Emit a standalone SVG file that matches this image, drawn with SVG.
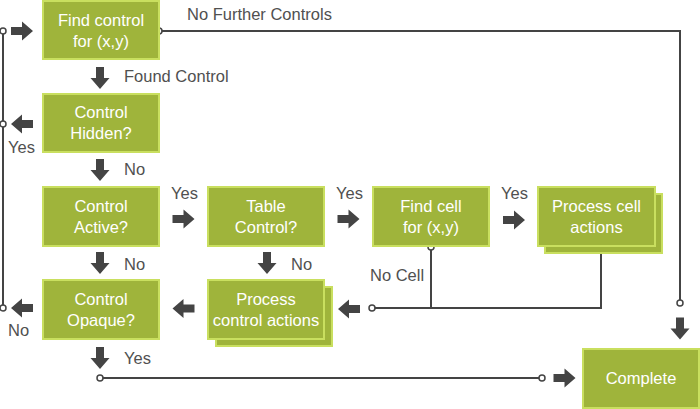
<svg xmlns="http://www.w3.org/2000/svg" xmlns:xlink="http://www.w3.org/1999/xlink" width="700" height="409" viewBox="0 0 700 409">
<defs>
<style>
.box{fill:#9fb43b;stroke:#c9df5f;stroke-width:2}
.bt{font-family:"Liberation Sans",Arial,sans-serif;font-size:16.5px;fill:#ffffff;text-anchor:middle}
.lb{font-family:"Liberation Sans",Arial,sans-serif;font-size:16.5px;fill:#505050}
.ln{fill:none;stroke:#444444;stroke-width:2}
.dot{fill:#ffffff;stroke:#444444;stroke-width:1.5}
.ar{fill:#444444}
</style>
<path id="arr" d="M-11,-4 H0 V-9.5 L11,0 L0,9.5 V4 H-11 Z"/>
</defs>
<rect width="700" height="409" fill="#ffffff"/>

<g id="connectors">
<path class="ln" d="M3,31 V308"/>
<path class="ln" d="M159,31 H680 V303"/>
<path class="ln" d="M100,378 H542"/>
<path class="ln" d="M372,308 H601 V247 M431,308 V247"/>
<circle class="dot" cx="3" cy="31" r="3"/>
<circle class="dot" cx="3" cy="124" r="3"/>
<circle class="dot" cx="3" cy="308" r="3"/>
<circle class="dot" cx="159" cy="31" r="3"/>
<circle class="dot" cx="680" cy="303" r="3"/>
<circle class="dot" cx="100" cy="378" r="3"/>
<circle class="dot" cx="542" cy="378" r="3"/>
<circle class="dot" cx="372" cy="308" r="3"/>
<circle class="dot" cx="431" cy="247" r="3"/>
<circle class="dot" cx="601" cy="247" r="3"/>
<use class="ar" xlink:href="#arr" transform="translate(22,31)"/>
<use class="ar" xlink:href="#arr" transform="translate(100,78) rotate(90)"/>
<use class="ar" xlink:href="#arr" transform="translate(22,124) rotate(180)"/>
<use class="ar" xlink:href="#arr" transform="translate(100,170) rotate(90)"/>
<use class="ar" xlink:href="#arr" transform="translate(100,263) rotate(90)"/>
<use class="ar" xlink:href="#arr" transform="translate(22,308) rotate(180)"/>
<use class="ar" xlink:href="#arr" transform="translate(100,358) rotate(90)"/>
<use class="ar" xlink:href="#arr" transform="translate(183.5,219)"/>
<use class="ar" xlink:href="#arr" transform="translate(183.5,308.5) rotate(180)"/>
<use class="ar" xlink:href="#arr" transform="translate(267,263) rotate(90)"/>
<use class="ar" xlink:href="#arr" transform="translate(348.5,219)"/>
<use class="ar" xlink:href="#arr" transform="translate(349,309) rotate(180)"/>
<use class="ar" xlink:href="#arr" transform="translate(514,220)"/>
<use class="ar" xlink:href="#arr" transform="translate(680,328.5) rotate(90)"/>
<use class="ar" xlink:href="#arr" transform="translate(564.5,378)"/>
<text class="lb" x="187" y="20">No Further Controls</text>
<text class="lb" x="124" y="82">Found Control</text>
<text class="lb" x="8" y="153">Yes</text>
<text class="lb" x="124" y="175">No</text>
<text class="lb" x="171" y="199">Yes</text>
<text class="lb" x="336" y="199">Yes</text>
<text class="lb" x="501" y="199">Yes</text>
<text class="lb" x="124" y="270">No</text>
<text class="lb" x="291" y="270">No</text>
<text class="lb" x="370" y="281">No Cell</text>
<text class="lb" x="8" y="336">No</text>
<text class="lb" x="124" y="364">Yes</text>
</g>

<g id="find-control">
<rect class="box" x="43" y="1" width="116" height="58"/>
<text class="bt" x="101" y="26">Find control</text>
<text class="bt" x="101" y="47">for (x,y)</text>
</g>
<g id="control-hidden">
<rect class="box" x="43" y="94" width="116" height="58"/>
<text class="bt" x="101" y="118">Control</text>
<text class="bt" x="101" y="139">Hidden?</text>
</g>
<g id="control-active">
<rect class="box" x="43" y="187" width="116" height="59"/>
<text class="bt" x="101" y="212">Control</text>
<text class="bt" x="101" y="233">Active?</text>
</g>
<g id="control-opaque">
<rect class="box" x="43" y="280" width="116" height="59"/>
<text class="bt" x="101" y="305">Control</text>
<text class="bt" x="101" y="326">Opaque?</text>
</g>
<g id="table-control">
<rect class="box" x="208" y="187" width="116" height="59"/>
<text class="bt" x="266" y="212">Table</text>
<text class="bt" x="266" y="233">Control?</text>
</g>
<g id="process-control-actions">
<rect class="box" x="216" y="287" width="116" height="59"/>
<rect class="box" x="208" y="280" width="116" height="59"/>
<text class="bt" x="266" y="305">Process</text>
<text class="bt" x="266" y="326">control actions</text>
</g>
<g id="find-cell">
<rect class="box" x="373" y="187" width="116" height="59"/>
<text class="bt" x="431" y="212">Find cell</text>
<text class="bt" x="431" y="233">for (x,y)</text>
</g>
<g id="process-cell-actions">
<rect class="box" x="545" y="194" width="117" height="59"/>
<rect class="box" x="538" y="187" width="117" height="59"/>
<text class="bt" x="596.5" y="212">Process cell</text>
<text class="bt" x="596.5" y="233">actions</text>
</g>
<g id="complete">
<rect class="box" x="583" y="349" width="116" height="59"/>
<text class="bt" x="641" y="384">Complete</text>
</g>
</svg>
